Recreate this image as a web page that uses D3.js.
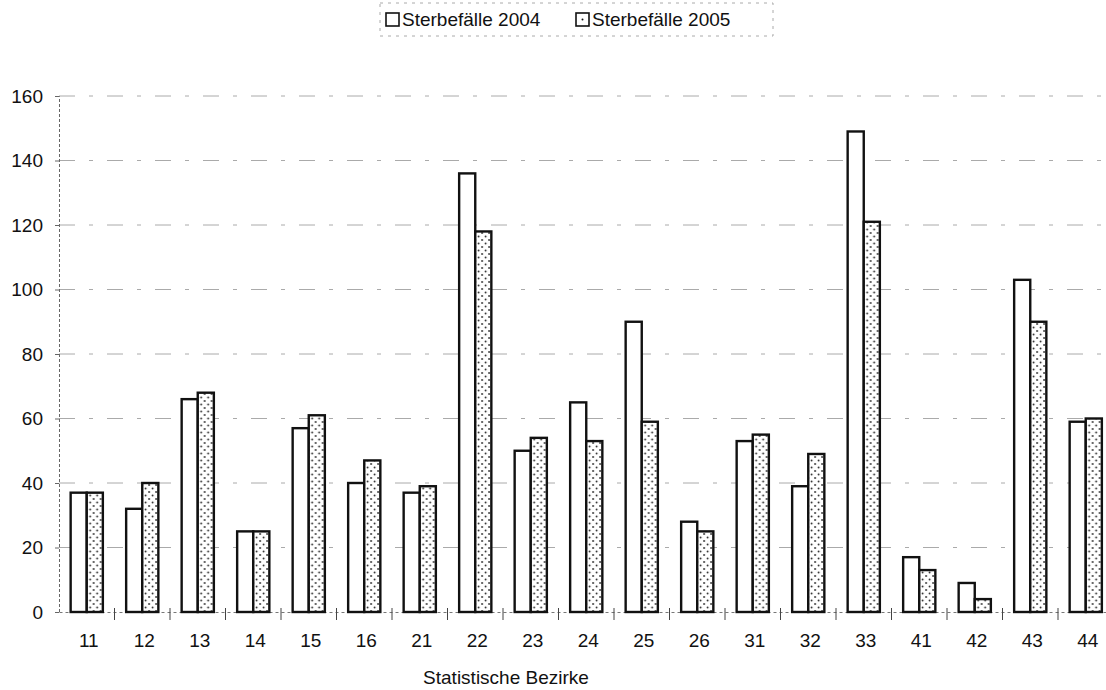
<!DOCTYPE html>
<html><head><meta charset="utf-8">
<script src="https://cdn.jsdelivr.net/npm/d3@7/dist/d3.min.js"></script>
<style>body{margin:0;background:#fff}svg{display:block}</style>
</head><body>
<svg id="c" width="1106" height="690"></svg>
<script>
const categories = ["11","12","13","14","15","16","21","22","23","24","25","26","31","32","33","41","42","43","44"];
const deaths2004 = [37,32,66,25,57,40,37,136,50,65,90,28,53,39,149,17,9,103,59];
const deaths2005 = [37,40,68,25,61,47,39,118,54,53,59,25,55,49,121,13,4,90,60];
const seriesNames = ["Sterbefälle 2004","Sterbefälle 2005"];
const yTicks = [0,20,40,60,80,100,120,140,160];
const xTitle = "Statistische Bezirke";

const svg = d3.select("#c");
const font = "Liberation Sans, Arial, sans-serif";
const left = 59, step = 55.5;
const x = d3.scaleBand().domain(categories).range([left, left + step*categories.length]).paddingInner(0.42).paddingOuter(0.21);
const xs = d3.scaleBand().domain(seriesNames).range([0, x.bandwidth()]);
const y = d3.scaleLinear().domain([0,160]).range([612, 96]);

const defs = svg.append("defs");
const pat = defs.append("pattern").attr("id","dots").attr("patternUnits","userSpaceOnUse").attr("width",7).attr("height",7);
pat.append("rect").attr("width",7).attr("height",7).attr("fill","#fff");
pat.append("circle").attr("cx",2).attr("cy",2).attr("r",0.9).attr("fill","#222");
pat.append("circle").attr("cx",5.5).attr("cy",5.5).attr("r",0.9).attr("fill","#222");

// gridlines
svg.append("g").selectAll("line").data(yTicks.filter(d=>d>0)).join("line")
  .attr("x1", left).attr("x2", 1106).attr("y1", d=>y(d)).attr("y2", d=>y(d))
  .attr("stroke","#aaa").attr("stroke-width",1).attr("stroke-dasharray","16,14,4,14");

// y axis
const yAxis = d3.axisLeft(y).tickValues(yTicks).tickSize(4).tickPadding(12);
const gy = svg.append("g").attr("transform",`translate(${left},0)`).call(yAxis);
gy.select(".domain").attr("stroke","#666").attr("stroke-dasharray","3,2");
gy.selectAll(".tick line").attr("stroke","#666");
gy.selectAll("text").attr("font-family",font).attr("font-size",19).attr("fill","#111");

// x axis
const gx = svg.append("g").attr("transform",`translate(0,${y(0)})`)
  .call(d3.axisBottom(x).tickSize(0).tickPadding(22));
gx.select(".domain").attr("stroke","#777").attr("stroke-dasharray","3,3");
gx.selectAll("text").attr("font-family",font).attr("font-size",19).attr("fill","#111").attr("dx","2");
// boundary ticks
svg.append("g").selectAll("line").data(categories.slice(1)).join("line")
  .attr("x1", d=>x(d) - x.step()*x.paddingInner()/2).attr("x2", d=>x(d) - x.step()*x.paddingInner()/2)
  .attr("y1", y(0)-4).attr("y2", y(0)+8).attr("stroke","#444").attr("stroke-width",1);

// bars
const rows = categories.map((c,i)=>({c, vals:[{s:seriesNames[0],v:deaths2004[i]},{s:seriesNames[1],v:deaths2005[i]}]}));
const g = svg.append("g").selectAll("g").data(rows).join("g").attr("transform",d=>`translate(${x(d.c)},0)`);
g.selectAll("rect").data(d=>d.vals).join("rect")
  .attr("x", d=>xs(d.s)).attr("width", xs.bandwidth())
  .attr("y", d=>y(d.v)).attr("height", d=>y(0)-y(d.v))
  .attr("fill", (d,i)=> i===0 ? "#fff" : "url(#dots)")
  .attr("stroke","#111").attr("stroke-width",2.4);

// x title
svg.append("text").attr("x",506).attr("y",684).attr("text-anchor","middle")
  .attr("font-family",font).attr("font-size",19).attr("fill","#111").text(xTitle);

// legend
const lg = svg.append("g");
lg.append("rect").attr("x",380).attr("y",3).attr("width",393).attr("height",33)
  .attr("fill","none").attr("stroke","#aaa").attr("stroke-dasharray","3,5");
const items = lg.selectAll("g").data(seriesNames).join("g")
  .attr("transform",(d,i)=>`translate(${i===0?386:576},13)`);
items.append("rect").attr("width",13).attr("height",13).attr("fill","#fff").attr("stroke","#111").attr("stroke-width",1.6);
items.filter((d,i)=>i===1).append("circle").attr("cx",6.5).attr("cy",6.5).attr("r",1).attr("fill","#111");
items.append("text").attr("x",16).attr("y",13).attr("font-family",font).attr("font-size",19).attr("fill","#111").text(d=>d);
</script>
</body></html>
